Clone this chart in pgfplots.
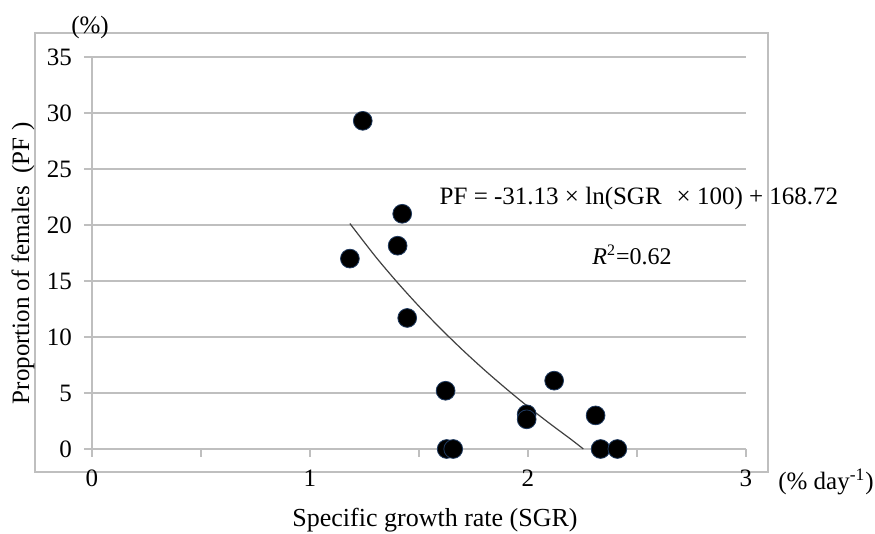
\documentclass[border=0pt]{standalone}
\usepackage{pgfplots}
\pgfplotsset{compat=1.18}
\usepackage{fontspec}
\setmainfont{Liberation Serif}
\definecolor{gridc}{HTML}{BFBFBF}
\definecolor{edgec}{HTML}{1F3A5F}
\begin{document}
\begin{tikzpicture}
\path[use as bounding box] (0,0) rectangle (437.5pt,267pt);
\draw[gridc, line width=0.7pt] (17.5pt,31pt) rectangle (384pt,250.5pt);
\begin{axis}[
  at={(46pt,42.5pt)}, anchor=south west,
  scale only axis, width=327pt, height=196pt,
  xmin=0, xmax=3, ymin=0, ymax=35,
  axis x line*=bottom, axis y line*=left,
  axis line style={draw=gridc, line width=0.7pt},
  xtick={0,1,2,3}, minor xtick={0.5,1.5,2.5},
  ytick={0,5,...,35},
  tick align=outside,
  major tick length=4pt, minor tick length=4pt,
  tick style={draw=gridc, line width=0.7pt},
  ymajorgrids, grid style={draw=gridc, line width=0.7pt},
  /pgf/number format/assume math mode=true,
  tick label style={font=\fontsize{12.5}{14}\selectfont},
  xticklabel style={anchor=center, yshift=-10.5pt},
  yticklabel style={anchor=east, xshift=-2.5pt},
  clip=false,
]
\addplot[color=black!75, line width=0.6pt, no marks, smooth] coordinates {
  (1.183,20.13) (1.3,17.19) (1.4,14.89) (1.5,12.74) (1.6,10.73) (1.7,8.84)
  (1.8,7.06) (1.9,5.38) (2.0,3.78) (2.1,2.27) (2.2,0.82) (2.254,0.0)
};
\addplot[only marks, mark=*, mark size=4.7pt, mark options={fill=black, draw=edgec, line width=0.4pt}] coordinates {
  (1.242,29.3) (1.423,21.0) (1.402,18.15) (1.183,17.0) (1.446,11.7)
  (1.622,5.2) (1.627,0) (1.657,0) (1.994,3.1) (1.994,2.65)
  (2.12,6.1) (2.31,3.0) (2.333,0) (2.41,0)
};
\end{axis}
\node[font=\fontsize{12.5}{14}\selectfont] at (45pt,253.5pt) {(\%)};
\node[font=\fontsize{12.5}{14}\selectfont] at (413pt,26pt) {(\% day\textsuperscript{-1})};
\node[font=\fontsize{13}{15}\selectfont] at (217.5pt,7pt) {Specific growth rate (SGR)};
\node[font=\fontsize{12.5}{15}\selectfont, rotate=90] at (11.5pt,135.5pt) {Proportion of females\hspace{0.5em}(PF\hspace{0.3em})};
\node[font=\fontsize{12.5}{14}\selectfont] at (319.5pt,168pt) {PF = -31.13 × ln(SGR\hspace{0.6em}× 100) + 168.72};
\node[font=\fontsize{12}{14}\selectfont] at (316pt,139.5pt) {\textit{R}\textsuperscript{2}=0.62};
\end{tikzpicture}
\end{document}
